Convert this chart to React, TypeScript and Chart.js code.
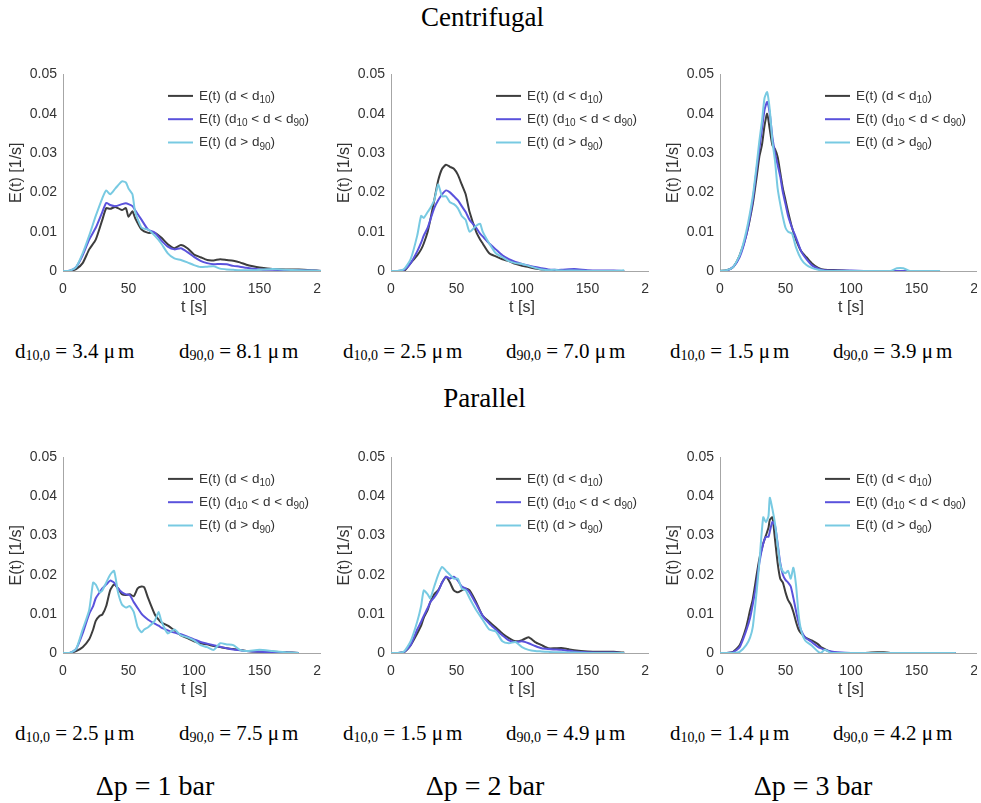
import React, { useEffect, useRef } from 'react';
import { Chart, registerables } from 'chart.js';

Chart.register(...registerables);

// ---------- data ----------
const SERIES_NAMES = ['E(t) (d < d10)', 'E(t) (d10 < d < d90)', 'E(t) (d > d90)'];
const LEGEND_PARTS: [string, boolean][][] = [
  [['E(t) (d < d', false], ['10', true], [')', false]],
  [['E(t) (d', false], ['10', true], [' < d < d', false], ['90', true], [')', false]],
  [['E(t) (d > d', false], ['90', true], [')', false]],
];
const SERIES_COLORS = ['#3d3d3d', '#5a52dc', '#78cae2'];

const X_TICKS = [0, 50, 100, 150, 200];
const Y_TICKS = [0, 0.01, 0.02, 0.03, 0.04, 0.05];

// Centrifugal, 1 bar
const C1_T = [0,5,10,15,20,25,30,33,36,40,45,48,50,53,55,60,65,70,75,80,85,90,95,100,105,110,115,120,125,130,135,140,145,150,160,170,180,190,197];
const C1_SMALL = [0,0,0.0005,0.002,0.0055,0.008,0.013,0.016,0.0158,0.0163,0.0155,0.016,0.0138,0.0152,0.0135,0.0105,0.0097,0.0097,0.0085,0.0068,0.0058,0.0066,0.0058,0.0042,0.0035,0.0028,0.0027,0.003,0.0028,0.0026,0.0022,0.0016,0.0012,0.0009,0.0005,0.0004,0.0004,0.0002,0];
const C1_MID = [0,0.0001,0.001,0.004,0.008,0.011,0.015,0.0173,0.0168,0.0165,0.017,0.0172,0.017,0.0165,0.0155,0.013,0.0105,0.0098,0.0078,0.0062,0.0055,0.0058,0.0048,0.0036,0.0026,0.002,0.0017,0.0018,0.0017,0.0013,0.0011,0.0008,0.0006,0.0004,0.0003,0.0002,0.0002,0.0001,0];
const C1_LARGE = [0,0.0001,0.001,0.0045,0.009,0.014,0.0185,0.0205,0.0195,0.021,0.0228,0.0225,0.021,0.0195,0.0152,0.011,0.0105,0.009,0.007,0.0045,0.0032,0.0028,0.0022,0.0015,0.001,0.0011,0.0012,0.0006,0.0004,0.0003,0.0002,0.0002,0.0002,0.0003,0.0005,0.0003,0.0002,0.0001,0];

// Centrifugal, 2 bar
const C2_T = [0,5,10,15,20,23,25,28,30,33,36,39,42,45,48,51,54,57,60,65,68,70,75,80,85,90,95,100,105,110,115,120,125,130,140,150,160,170,178];
const C2_SMALL = [0,0,0,0.002,0.004,0.0055,0.007,0.010,0.013,0.018,0.023,0.026,0.027,0.0265,0.026,0.0245,0.022,0.0195,0.015,0.010,0.008,0.007,0.0045,0.0037,0.003,0.0025,0.0018,0.0013,0.001,0.0006,0.0004,0.0002,0.0001,0.0001,0,0,0,0,0];
const C2_MID = [0,0,0.0003,0.002,0.005,0.0072,0.009,0.011,0.013,0.016,0.018,0.0195,0.0205,0.020,0.019,0.018,0.0165,0.015,0.013,0.011,0.0095,0.0088,0.007,0.0055,0.004,0.003,0.0023,0.0018,0.0014,0.001,0.0007,0.0004,0.0003,0.0003,0.0005,0.0002,0.0001,0.0001,0];
const C2_LARGE = [0,0,0.0005,0.003,0.009,0.014,0.0135,0.015,0.016,0.018,0.022,0.019,0.019,0.0175,0.017,0.016,0.014,0.013,0.010,0.0115,0.012,0.010,0.007,0.0045,0.0035,0.0025,0.002,0.0018,0.0013,0.0008,0.0004,0.0002,0.0003,0.0001,0.0001,0,0,0,0.0002];

// Centrifugal, 3 bar
const C3_T = [0,5,10,15,20,25,28,30,32,34,36,38,40,42,44,46,48,50,52,55,58,62,66,70,75,80,90,100,110,120,130,135,140,145,150,160,168];
const C3_SMALL = [0,0.0002,0.001,0.004,0.009,0.017,0.024,0.029,0.032,0.037,0.040,0.036,0.032,0.031,0.029,0.025,0.021,0.018,0.015,0.011,0.008,0.005,0.0035,0.002,0.0008,0.0003,0.0002,0,0,0,0,0,0,0,null,null,null];
const C3_MID = [0,0.0001,0.001,0.0035,0.009,0.018,0.026,0.031,0.036,0.041,0.043,0.040,0.034,0.030,0.027,0.024,0.020,0.017,0.014,0.011,0.0085,0.005,0.003,0.0015,0.0006,0.0002,0.0001,0.0001,0,0,0,0,0,0,null,null,null];
const C3_LARGE = [0,0.0002,0.001,0.004,0.010,0.019,0.027,0.033,0.038,0.044,0.0455,0.041,0.033,0.028,0.021,0.017,0.0137,0.011,0.010,0.0095,0.006,0.003,0.0015,0.0008,0.0003,0,0,0,0,0,0,0.0007,0.0007,0,0,0,0];

// Parallel, 1 bar
const P1_T = [0,5,10,15,20,23,25,28,30,33,36,39,42,45,48,51,54,57,60,62,65,70,73,75,80,85,90,95,100,105,110,115,120,125,130,135,140,150,160,170,180];
const P1_SMALL = [0,0,0.0005,0.0015,0.0035,0.006,0.0082,0.0095,0.0098,0.012,0.016,0.0175,0.0165,0.015,0.0148,0.015,0.0145,0.0165,0.017,0.0168,0.014,0.0099,0.0085,0.0078,0.007,0.0058,0.0045,0.0038,0.003,0.0025,0.0022,0.0018,0.0015,0.0012,0.001,0.0008,0.0005,0.0003,0.0003,0.0002,0];
const P1_MID = [0,0,0.001,0.005,0.010,0.012,0.014,0.0155,0.0165,0.0175,0.0185,0.018,0.0165,0.0155,0.015,0.0148,0.013,0.0115,0.010,0.0093,0.0085,0.0075,0.007,0.0065,0.0058,0.0052,0.0048,0.0042,0.0035,0.0028,0.0024,0.002,0.0016,0.0012,0.0009,0.0007,0.0005,0.0003,0.0002,0.0001,0];
const P1_LARGE = [0,0,0.001,0.006,0.011,0.018,0.0175,0.0155,0.016,0.018,0.020,0.021,0.0155,0.0124,0.0116,0.012,0.0105,0.0066,0.0053,0.006,0.0066,0.0082,0.0105,0.0082,0.005,0.006,0.0045,0.004,0.0032,0.002,0.0015,0.0008,0.0025,0.0022,0.002,0.0008,0.0005,0.0008,0.0005,0.0002,0];

// Parallel, 2 bar
const P2_T = [0,5,10,15,20,23,25,28,30,33,36,39,42,45,48,51,54,57,60,65,70,75,80,85,90,95,100,105,110,115,120,125,130,135,140,150,160,170,178];
const P2_SMALL = [0,0,0.0002,0.002,0.005,0.007,0.009,0.011,0.013,0.015,0.016,0.018,0.0195,0.018,0.016,0.0155,0.016,0.0165,0.016,0.013,0.0095,0.008,0.0065,0.005,0.0038,0.003,0.0033,0.004,0.0028,0.002,0.0012,0.0012,0.0013,0.001,0.0007,0.0004,0.0003,0.0003,0.0001];
const P2_MID = [0,0,0.0003,0.002,0.006,0.008,0.0095,0.0115,0.013,0.0142,0.0158,0.018,0.0195,0.019,0.0195,0.0185,0.017,0.0165,0.0155,0.0125,0.0095,0.0075,0.006,0.0045,0.0032,0.0028,0.003,0.0025,0.0018,0.0012,0.001,0.0009,0.0008,0.0006,0.0004,0.0002,0.0001,0.0001,0];
const P2_LARGE = [0,0,0.0004,0.003,0.008,0.012,0.016,0.015,0.014,0.017,0.020,0.022,0.021,0.020,0.019,0.019,0.0165,0.016,0.014,0.011,0.0085,0.006,0.0055,0.003,0.0025,0.0028,0.0015,0.0008,0.0005,0.0004,0.0003,0.0002,0.0002,0.0001,0.0001,0,0,0,0];

// Parallel, 3 bar
const P3_T = [0,5,10,15,20,23,25,28,30,33,35,37,38,40,42,44,46,48,50,52,54,56,58,60,62,65,70,75,77,80,85,90,100,110,120,125,130,140,160,180];
const P3_SMALL = [0,0,0.0003,0.002,0.0066,0.011,0.0137,0.020,0.024,0.028,0.030,0.032,0.034,0.0347,0.029,0.023,0.019,0.018,0.0155,0.0135,0.0124,0.0105,0.008,0.006,0.005,0.004,0.0032,0.0022,0.0015,0.001,0.0002,0,0,0,0.0002,0.0002,0,0,0,0];
const P3_MID = [0,0,0.0002,0.0015,0.0057,0.009,0.0124,0.018,0.023,0.028,0.0297,0.0297,0.031,0.0335,0.0326,0.028,0.023,0.020,0.0187,0.018,0.017,0.0141,0.0108,0.0078,0.0057,0.004,0.0028,0.0015,0.0012,0.0008,0.0004,0.0002,0,0,0,0,0,0,0,0];
const P3_LARGE = [0,0,0,0.0003,0.002,0.004,0.0066,0.0158,0.023,0.0347,0.0334,0.035,0.0397,0.0368,0.033,0.0276,0.0225,0.0208,0.0204,0.021,0.019,0.0218,0.0175,0.0099,0.0057,0.0032,0.0019,0.0003,0,0.0008,0,0,0,0,0,0,0,0,0,0];

const ROW_TITLES = ['Centrifugal', 'Parallel'];
const D10_TOP = ['3.4', '2.5', '1.5'];
const D90_TOP = ['8.1', '7.0', '3.9'];
const D10_BOTTOM = ['2.5', '1.5', '1.4'];
const D90_BOTTOM = ['7.5', '4.9', '4.2'];
const PRESSURES = ['1', '2', '3'];

// ---------- layout ----------
const SANS = '"Liberation Sans", Arial, Helvetica, sans-serif';
const SERIF = '"Liberation Serif", "Times New Roman", Times, serif';
const CANVAS_W = 340;
const Y_AXIS_W = 58;
const X_AXIS_H = 46;
const PAD_TOP = 11;
const PAD_RIGHT = 20;

const legendPlugin = {
  id: 'insideLegend',
  afterDatasetsDraw(chart: any) {
    const { ctx, chartArea } = chart;
    ctx.save();
    LEGEND_PARTS.forEach((parts, i) => {
      const y = chartArea.top + 21.5 + i * 23.3;
      ctx.strokeStyle = SERIES_COLORS[i];
      ctx.lineWidth = 2;
      ctx.beginPath();
      ctx.moveTo(chartArea.left + 105, y);
      ctx.lineTo(chartArea.left + 130, y);
      ctx.stroke();
      let x = chartArea.left + 136;
      ctx.fillStyle = '#333333';
      ctx.textBaseline = 'middle';
      ctx.textAlign = 'left';
      parts.forEach(([txt, sub]) => {
        ctx.font = sub ? `10px ${SANS}` : `13.5px ${SANS}`;
        ctx.fillText(txt, x, sub ? y + 4.5 : y);
        x += ctx.measureText(txt).width;
      });
    });
    ctx.restore();
  },
};

type PanelProps = {
  t: number[];
  small: (number | null)[];
  mid: (number | null)[];
  large: (number | null)[];
  left: number;
  top: number;
  clipW: number;
  plotH: number;
};

function Panel({ t, small, mid, large, left, top, clipW, plotH }: PanelProps) {
  const ref = useRef<HTMLCanvasElement>(null);
  const canvasH = PAD_TOP + plotH + X_AXIS_H;
  useEffect(() => {
    const series = [small, mid, large];
    const chart = new Chart(ref.current!, {
      type: 'line',
      data: {
        datasets: series.map((vals, i) => ({
          label: SERIES_NAMES[i],
          data: t.map((x, j) => ({ x, y: vals[j] })),
          borderColor: SERIES_COLORS[i],
          backgroundColor: SERIES_COLORS[i],
          borderWidth: 2,
          pointRadius: 0,
          tension: 0.2,
          spanGaps: false,
          order: 3 - i,
        })),
      },
      options: {
        animation: false,
        responsive: false,
        devicePixelRatio: 1,
        layout: { padding: { left: 0, top: PAD_TOP, right: PAD_RIGHT, bottom: 0 } },
        plugins: {
          legend: { display: false },
          tooltip: { enabled: false },
          title: { display: false },
        },
        scales: {
          x: {
            type: 'linear',
            min: X_TICKS[0],
            max: X_TICKS[X_TICKS.length - 1],
            grid: { display: false, drawTicks: false },
            border: { display: true, color: '#a6a6a6', width: 1 },
            afterBuildTicks: (s: any) => { s.ticks = X_TICKS.map((v) => ({ value: v })); },
            ticks: {
              padding: 10,
              color: '#333333',
              maxRotation: 0,
              autoSkip: false,
              font: { family: SANS, size: 14 },
              callback: (v: any) => String(v),
            },
            title: {
              display: true,
              text: 't [s]',
              color: '#333333',
              font: { family: SANS, size: 16 },
              padding: { top: 0, bottom: 0 },
            },
            afterFit: (s: any) => { s.height = X_AXIS_H; s.paddingLeft = 0; s.paddingRight = 0; },
          },
          y: {
            type: 'linear',
            min: Y_TICKS[0],
            max: Y_TICKS[Y_TICKS.length - 1],
            grid: { display: false, drawTicks: false },
            border: { display: true, color: '#a6a6a6', width: 1 },
            afterBuildTicks: (s: any) => { s.ticks = Y_TICKS.map((v) => ({ value: v })); },
            ticks: {
              padding: 6,
              color: '#333333',
              font: { family: SANS, size: 14 },
              callback: (v: any) => (Number(v) === 0 ? '0' : Number(v).toFixed(2)),
            },
            title: {
              display: true,
              text: 'E(t) [1/s]',
              color: '#333333',
              font: { family: SANS, size: 16 },
              padding: { top: 2, bottom: 0 },
            },
            afterFit: (s: any) => { s.width = Y_AXIS_W; },
          },
        },
      } as any,
      plugins: [legendPlugin],
    });
    return () => chart.destroy();
  }, []);
  return (
    <div style={{ position: 'absolute', left, top, width: clipW, height: canvasH, overflow: 'hidden' }}>
      <canvas ref={ref} width={CANVAS_W} height={canvasH} style={{ width: CANVAS_W, height: canvasH, display: 'block' }} />
    </div>
  );
}

function DLabel({ sub, value, left, top }: { sub: string; value: string; left: number; top: number }) {
  return (
    <div style={{ position: 'absolute', left, top, fontFamily: SERIF, fontSize: 21, lineHeight: '21px', whiteSpace: 'nowrap', color: '#000' }}>
      d<span style={{ fontSize: 14, verticalAlign: '-2px' }}>{sub}</span> = {value} <span style={{ marginRight: 3 }}>μ</span>m
    </div>
  );
}

export default function App() {
  const topPlot = 200;
  const botPlot = 199;
  const panelLefts = [5, 333, 662];
  const clipWs = [316, 316, 315];
  const topRow = [
    { t: C1_T, small: C1_SMALL, mid: C1_MID, large: C1_LARGE },
    { t: C2_T, small: C2_SMALL, mid: C2_MID, large: C2_LARGE },
    { t: C3_T, small: C3_SMALL, mid: C3_MID, large: C3_LARGE },
  ];
  const botRow = [
    { t: P1_T, small: P1_SMALL, mid: P1_MID, large: P1_LARGE },
    { t: P2_T, small: P2_SMALL, mid: P2_MID, large: P2_LARGE },
    { t: P3_T, small: P3_SMALL, mid: P3_MID, large: P3_LARGE },
  ];
  const d10Lefts = [15, 343, 670];
  const d90Lefts = [179, 506, 833];
  const dpCenters = [155, 485, 813];
  return (
    <div style={{ position: 'absolute', left: 0, top: 0, width: 981, height: 803, background: '#ffffff', overflow: 'hidden' }}>
      <div style={{ position: 'absolute', left: 0, width: 965, top: 4, textAlign: 'center', fontFamily: SERIF, fontSize: 27, lineHeight: '27px' }}>
        {ROW_TITLES[0]}
      </div>
      <div style={{ position: 'absolute', left: 0, width: 969, top: 385, textAlign: 'center', fontFamily: SERIF, fontSize: 27, lineHeight: '27px' }}>
        {ROW_TITLES[1]}
      </div>
      {topRow.map((p, i) => (
        <Panel key={'c' + i} {...p} left={panelLefts[i]} top={71 - PAD_TOP} clipW={clipWs[i]} plotH={topPlot} />
      ))}
      {botRow.map((p, i) => (
        <Panel key={'p' + i} {...p} left={panelLefts[i]} top={454 - PAD_TOP} clipW={clipWs[i]} plotH={botPlot} />
      ))}
      {D10_TOP.map((v, i) => <DLabel key={'a' + i} sub="10,0" value={v} left={d10Lefts[i]} top={341} />)}
      {D90_TOP.map((v, i) => <DLabel key={'b' + i} sub="90,0" value={v} left={d90Lefts[i]} top={341} />)}
      {D10_BOTTOM.map((v, i) => <DLabel key={'c' + i} sub="10,0" value={v} left={d10Lefts[i]} top={723} />)}
      {D90_BOTTOM.map((v, i) => <DLabel key={'d' + i} sub="90,0" value={v} left={d90Lefts[i]} top={723} />)}
      {PRESSURES.map((p, i) => (
        <div key={'dp' + i} style={{ position: 'absolute', left: dpCenters[i] - 100, width: 200, top: 772, textAlign: 'center', fontFamily: SERIF, fontSize: 28, lineHeight: '28px', whiteSpace: 'nowrap' }}>
          Δp = {p} bar
        </div>
      ))}
    </div>
  );
}
